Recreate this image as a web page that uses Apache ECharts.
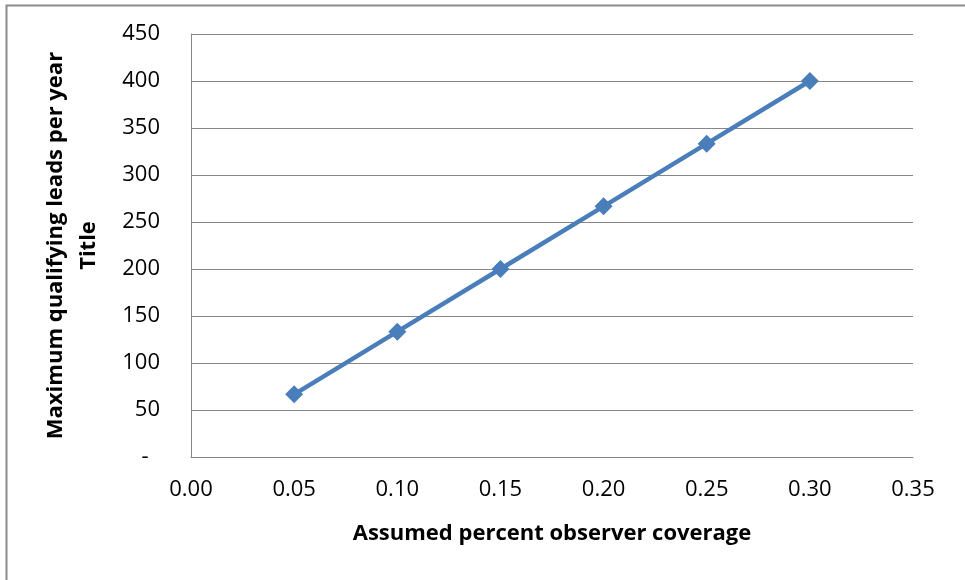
<!DOCTYPE html>
<html><head><meta charset="utf-8">
<script src="https://cdn.jsdelivr.net/npm/echarts@6/dist/echarts.min.js"></script>
<style>html,body{margin:0;padding:0;background:#fff}#c{width:965px;height:580px}</style>
</head><body><div id="c"></div>
<script>
const coverage = [0.05, 0.10, 0.15, 0.20, 0.25, 0.30];
const leads = [66.7, 133.3, 200, 266.7, 333.3, 400];
const xTitle = 'Assumed percent observer coverage';
const yTitle = 'Maximum qualifying leads per year\nTitle';

const chart = echarts.init(document.getElementById('c'), null, {renderer: 'canvas'});
const font = 'Open Sans';
chart.setOption({
  animation: false,
  graphic: [{
    type: 'rect', shape: {x: 6.5, y: 5.5, width: 1000, height: 1000},
    style: {fill: 'none', stroke: '#898989', lineWidth: 2}, silent: true
  }],
  grid: {left: 191, right: 52, top: 34, bottom: 123, containLabel: false},
  xAxis: {
    type: 'value', min: 0, max: 0.35, interval: 0.05,
    name: xTitle, nameLocation: 'middle', nameGap: 66,
    nameTextStyle: {fontFamily: font, fontWeight: 'bold', fontSize: 22, color: '#000'},
    axisLine: {lineStyle: {color: '#868686', width: 1}},
    axisTick: {show: false},
    splitLine: {show: false},
    axisLabel: {fontFamily: font, fontSize: 22, color: '#000', margin: 22,
      formatter: v => v.toFixed(2)}
  },
  yAxis: {
    type: 'value', min: 0, max: 450, interval: 50,
    name: yTitle, nameLocation: 'middle', nameRotate: 90, nameGap: 86,
    nameTextStyle: {fontFamily: font, fontWeight: 'bold', fontSize: 22, color: '#000', lineHeight: 33, align: 'center'},
    axisLine: {show: true, lineStyle: {color: '#868686', width: 1}},
    axisTick: {show: false},
    splitLine: {lineStyle: {color: '#868686', width: 1}},
    axisLabel: {fontFamily: font, fontSize: 22, color: '#000', margin: 31,
      formatter: v => v === 0 ? '-  ' : String(v)}
  },
  series: [{
    type: 'line',
    data: coverage.map((c, i) => [c, leads[i]]),
    symbol: 'diamond', symbolSize: 18,
    lineStyle: {color: '#4a7ebb', width: 4.5},
    itemStyle: {color: '#4a7ebb'}
  }]
});
</script></body></html>
